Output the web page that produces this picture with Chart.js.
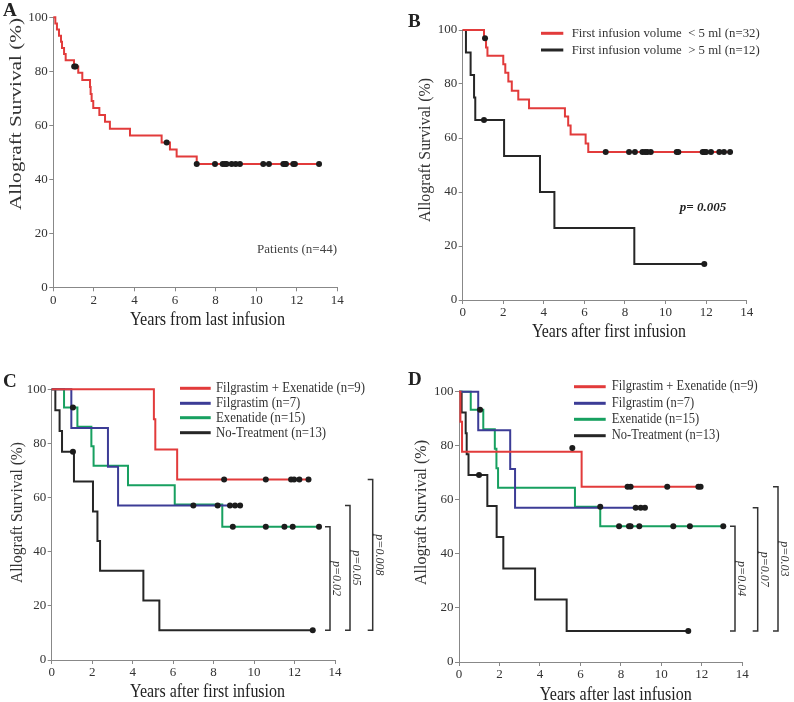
<!DOCTYPE html>
<html>
<head>
<meta charset="utf-8">
<script src="https://cdn.jsdelivr.net/npm/chart.js@4.4.0/dist/chart.umd.min.js"></script>
<style>
  body { margin: 0; background: #fff; }
  #wrap { position: relative; width: 794px; height: 702px; overflow: hidden; }
  canvas { position: absolute; }
</style>
</head>
<body>
<div id="wrap">
  <canvas id="panelA" width="397" height="362" style="left:0;top:0"></canvas>
  <canvas id="panelB" width="397" height="362" style="left:397px;top:0"></canvas>
  <canvas id="panelC" width="397" height="362" style="left:0;top:340px"></canvas>
  <canvas id="panelD" width="397" height="362" style="left:397px;top:340px"></canvas>
</div>
<script>
// axis ticks
const yearTicks = [0, 2, 4, 6, 8, 10, 12, 14];
const survivalTicks = [0, 20, 40, 60, 80, 100];

// A - all patients
const aTime = [0, 0.1, 0.18, 0.28, 0.38, 0.43, 0.53, 0.61, 1.02, 1.23, 1.43, 1.81, 1.84, 1.89, 1.97, 2.27, 2.55, 2.79, 3.78, 5.34, 5.75, 6.08, 7.07, 13.1];
const aSurv = [100, 97.7, 95.5, 93.2, 90.9, 88.6, 86.4, 84.1, 81.8, 79.5, 76.8, 74.2, 71.6, 69.0, 66.4, 63.8, 61.3, 58.7, 56.2, 53.6, 51.0, 48.4, 45.7, 45.7];
const aCensTime = [1.03, 1.1, 5.59, 7.07, 7.97, 8.35, 8.46, 8.54, 8.79, 8.99, 9.2, 10.35, 10.63, 11.34, 11.42, 11.47, 11.83, 11.91, 13.1];
const aCensSurv = [81.8, 81.8, 53.6, 45.7, 45.7, 45.7, 45.7, 45.7, 45.7, 45.7, 45.7, 45.7, 45.7, 45.7, 45.7, 45.7, 45.7, 45.7, 45.7];

// B - first infusion volume
const bLabels = ['First infusion volume  < 5 ml (n=32)', 'First infusion volume  > 5 ml (n=12)'];
const bLowTime = [0, 1.05, 1.15, 1.22, 2.0, 2.1, 2.25, 2.42, 2.74, 3.27, 5.04, 5.2, 5.32, 6.06, 6.19, 13.18];
const bLowSurv = [100, 96.9, 93.5, 90.5, 87.3, 84.2, 80.9, 77.5, 74.3, 71.0, 68.0, 64.6, 61.3, 58.0, 54.8, 54.8];
const bLowCensTime = [1.1, 7.05, 8.2, 8.49, 8.86, 8.99, 9.1, 9.27, 10.55, 10.63, 11.83, 11.91, 12.0, 12.24, 12.65, 12.88, 13.18];
const bLowCensSurv = [96.9, 54.8, 54.8, 54.8, 54.8, 54.8, 54.8, 54.8, 54.8, 54.8, 54.8, 54.8, 54.8, 54.8, 54.8, 54.8, 54.8];
const bHighTime = [0, 0.16, 0.39, 0.56, 0.62, 2.04, 3.81, 4.52, 8.46, 11.91];
const bHighSurv = [100, 91.7, 83.3, 75.0, 66.7, 53.3, 40.0, 26.7, 13.3, 13.3];
const bHighCensTime = [1.05, 11.91];
const bHighCensSurv = [66.7, 13.3];
const bPValue = 'p= 0.005';

// C and D - treatment groups
const groupLabels = ['Filgrastim + Exenatide (n=9)', 'Filgrastim (n=7)', 'Exenatide (n=15)', 'No-Treatment (n=13)'];

const cFilExTime = [0, 5.05, 5.12, 6.2, 12.69];
const cFilExSurv = [100, 88.9, 77.8, 66.7, 66.7];
const cFilExCensTime = [8.52, 10.58, 11.83, 11.98, 12.24, 12.69];
const cFilExCensSurv = [66.7, 66.7, 66.7, 66.7, 66.7, 66.7];
const cFilTime = [0, 0.97, 2.78, 3.28, 9.31];
const cFilSurv = [100, 85.7, 71.4, 57.1, 57.1];
const cFilCensTime = [7.0, 8.2, 8.81, 9.06, 9.31];
const cFilCensSurv = [57.1, 57.1, 57.1, 57.1, 57.1];
const cExTime = [0, 0.61, 1.27, 1.96, 2.07, 3.77, 6.08, 8.43, 13.21];
const cExSurv = [100, 93.3, 86.2, 79.0, 71.8, 64.6, 57.4, 49.2, 49.2];
const cExCensTime = [1.05, 8.95, 10.58, 11.5, 11.91, 13.21];
const cExCensSurv = [93.3, 49.2, 49.2, 49.2, 49.2, 49.2];
const cNoneTime = [0, 0.18, 0.39, 0.51, 1.1, 2.04, 2.26, 2.39, 4.53, 5.32, 12.9];
const cNoneSurv = [100, 92.3, 84.6, 76.9, 65.9, 54.9, 44.0, 33.0, 22.0, 11.0, 11.0];
const cNoneCensTime = [1.05, 12.9];
const cNoneCensSurv = [76.9, 11.0];
const cPValues = ['p=0.02', 'p=0.05', 'p=0.008'];

const dFilExTime = [0, 0.07, 0.15, 6.06, 11.94];
const dFilExSurv = [100, 88.9, 77.8, 64.8, 64.8];
const dFilExCensTime = [5.6, 8.33, 8.48, 10.29, 11.83, 11.94];
const dFilExCensSurv = [79.2, 64.8, 64.8, 64.8, 64.8, 64.8];
const dFilTime = [0, 0.95, 2.53, 2.77, 9.19];
const dFilSurv = [100, 85.7, 71.4, 57.1, 57.1];
const dFilCensTime = [8.73, 8.98, 9.19];
const dFilCensSurv = [57.1, 57.1, 57.1];
const dExTime = [0, 0.58, 1.2, 1.77, 1.85, 1.93, 5.73, 6.98, 13.06];
const dExSurv = [100, 93.3, 86.1, 78.9, 71.7, 64.5, 57.4, 50.2, 50.2];
const dExCensTime = [1.04, 6.98, 7.91, 8.4, 8.48, 8.91, 10.59, 11.41, 13.06];
const dExCensSurv = [93.3, 57.4, 50.2, 50.2, 50.2, 50.2, 50.2, 50.2, 50.2];
const dNoneTime = [0, 0.13, 0.33, 0.38, 0.47, 1.4, 1.86, 2.19, 3.76, 5.32, 11.33];
const dNoneSurv = [100, 92.3, 84.6, 76.9, 69.2, 57.7, 46.2, 34.6, 23.1, 11.5, 11.5];
const dNoneCensTime = [0.99, 11.33];
const dNoneCensSurv = [69.2, 11.5];
const dPValues = ['p=0.04', 'p=0.07', 'p=0.03'];

const serif = "'Liberation Serif', 'Times New Roman', serif";
const RED = '#e23b3b';
const BLUE = '#3c3c96';
const GREEN = '#17a060';
const BLACK = '#262626';
const DOT = '#1c1c1c';

const pts = (xs, ys) => xs.map((x, i) => ({ x, y: ys[i] }));

const curve = (xs, ys, color) => ({
  data: pts(xs, ys),
  borderColor: color,
  borderWidth: 2,
  stepped: true,
  pointRadius: 0,
  fill: false,
  clip: false,
  order: 1
});

const censor = (xs, ys) => ({
  data: pts(xs, ys),
  showLine: false,
  pointRadius: 3,
  pointBackgroundColor: DOT,
  pointBorderWidth: 0,
  clip: false,
  order: 0
});

// horizontal squeeze so a text spans the same width as in the figure
const squeezeFor = (ctx, text, font, width) => {
  ctx.save();
  ctx.font = font;
  const natural = ctx.measureText(text).width;
  ctx.restore();
  return width ? width / natural : 1;
};

const drawText = (ctx, text, x, y, font, { sx = 1, align = 'left', baseline = 'middle', angle = 0, color = '#222' } = {}) => {
  ctx.save();
  ctx.translate(x, y);
  ctx.rotate(angle);
  ctx.scale(sx, 1);
  ctx.font = font;
  ctx.fillStyle = color;
  ctx.textAlign = align;
  ctx.textBaseline = baseline;
  ctx.fillText(text, 0, 0);
  ctx.restore();
};

const panelExtras = {
  id: 'panelExtras',
  afterDraw(chart, args, opts) {
    const { ctx, chartArea, scales: { y } } = chart;
    const { letter, xTitle, yTitle, legend, notes = [], brackets } = opts;

    drawText(ctx, letter.text, letter.x, letter.y, `bold 19px ${serif}`, { baseline: 'alphabetic' });

    let font = `${xTitle.size}px ${serif}`;
    drawText(ctx, xTitle.text, xTitle.x, xTitle.y, font, {
      sx: squeezeFor(ctx, xTitle.text, font, xTitle.width), align: 'center', baseline: 'alphabetic'
    });

    font = `${yTitle.size}px ${serif}`;
    drawText(ctx, yTitle.text, yTitle.x, yTitle.y, font, {
      sx: squeezeFor(ctx, yTitle.text, font, yTitle.width), align: 'center', angle: -Math.PI / 2, color: '#333'
    });

    if (legend) {
      font = `${legend.size}px ${serif}`;
      const sx = squeezeFor(ctx, legend.labels[0], font, legend.width);
      legend.labels.forEach((label, i) => {
        const ly = legend.ys[i];
        ctx.save();
        ctx.strokeStyle = legend.colors[i];
        ctx.lineWidth = 3;
        ctx.beginPath();
        ctx.moveTo(legend.x0, ly);
        ctx.lineTo(legend.x1, ly);
        ctx.stroke();
        ctx.restore();
        drawText(ctx, label, legend.textX, ly, font, { sx, color: '#333' });
      });
    }

    notes.forEach(n => drawText(ctx, n.text, n.x, n.y, n.font, { align: n.align, color: n.color || '#333' }));

    if (brackets) {
      const bottomY = y.getPixelForValue(brackets.bottom);
      brackets.labels.forEach((label, i) => {
        const bx = chartArea.right + brackets.offsets[i];
        const topY = y.getPixelForValue(brackets.tops[i]);
        ctx.save();
        ctx.strokeStyle = '#333';
        ctx.lineWidth = 1.5;
        ctx.beginPath();
        ctx.moveTo(bx - 5, topY);
        ctx.lineTo(bx, topY);
        ctx.lineTo(bx, bottomY);
        ctx.lineTo(bx - 5, bottomY);
        ctx.stroke();
        ctx.restore();
        drawText(ctx, label, bx + 6, (topY + bottomY) / 2, `italic 12px ${serif}`, {
          align: 'center', angle: Math.PI / 2, color: '#333'
        });
      });
    }
  }
};

const axisStyle = {
  grid: { display: true, drawOnChartArea: false, drawTicks: true, tickLength: 4, color: '#888', lineWidth: 1 },
  border: { display: true, color: '#888', width: 1 },
  title: { display: false }
};

// area = [left, top, right, bottom] of the plot area inside the canvas
const makeChart = (id, datasets, area, extras) => {
  const canvas = document.getElementById(id);
  const [left, top, right, bottom] = area;
  return new Chart(canvas.getContext('2d'), {
    type: 'line',
    data: { datasets },
    plugins: [panelExtras],
    options: {
      responsive: false,
      animation: false,
      devicePixelRatio: 1,
      layout: { padding: { left: 0, top, right: canvas.width - right, bottom: 0 } },
      scales: {
        x: {
          ...axisStyle,
          type: 'linear',
          min: yearTicks[0],
          max: yearTicks[yearTicks.length - 1],
          afterBuildTicks: scale => { scale.ticks = yearTicks.map(value => ({ value })); },
          afterFit: scale => { scale.height = canvas.height - bottom; },
          ticks: { font: { family: serif, size: 13 }, color: '#333', padding: 1, maxRotation: 0 }
        },
        y: {
          ...axisStyle,
          min: survivalTicks[0],
          max: survivalTicks[survivalTicks.length - 1],
          afterBuildTicks: scale => { scale.ticks = survivalTicks.map(value => ({ value })); },
          afterFit: scale => { scale.width = left; },
          ticks: { font: { family: serif, size: 13 }, color: '#333', padding: 1.5 }
        }
      },
      plugins: {
        legend: { display: false },
        tooltip: { enabled: false },
        panelExtras: extras
      }
    }
  });
};

const yTitleText = 'Allograft Survival (%)';

makeChart('panelA', [
  censor(aCensTime, aCensSurv),
  curve(aTime, aSurv, RED)
], [53.3, 17.3, 337.3, 287.3], {
  letter: { text: 'A', x: 3, y: 16 },
  xTitle: { text: 'Years from last infusion', x: 207.5, y: 325, size: 19, width: 155 },
  yTitle: { text: yTitleText, x: 16.7, y: 114, size: 17, width: 192 },
  notes: [{ text: 'Patients (n=44)', x: 337, y: 250, font: `13px ${serif}`, align: 'right', color: '#444' }]
});

makeChart('panelB', [
  censor(bLowCensTime, bLowCensSurv),
  censor(bHighCensTime, bHighCensSurv),
  curve(bLowTime, bLowSurv, RED),
  curve(bHighTime, bHighSurv, BLACK)
], [65.7, 30, 349.7, 300], {
  letter: { text: 'B', x: 11, y: 27 },
  xTitle: { text: 'Years after first infusion', x: 211.9, y: 337.3, size: 19, width: 154 },
  yTitle: { text: yTitleText, x: 28.5, y: 150, size: 17, width: 144 },
  legend: { labels: bLabels, colors: [RED, BLACK], x0: 144, x1: 166.3, textX: 174.7, ys: [33.3, 50], size: 13.5, width: 188 },
  notes: [{ text: bPValue, x: 306, y: 208, font: `italic bold 13px ${serif}`, align: 'center', color: '#222' }]
});

makeChart('panelC', [
  censor(cFilExCensTime, cFilExCensSurv),
  censor(cFilCensTime, cFilCensSurv),
  censor(cExCensTime, cExCensSurv),
  censor(cNoneCensTime, cNoneCensSurv),
  curve(cFilExTime, cFilExSurv, RED),
  curve(cFilTime, cFilSurv, BLUE),
  curve(cExTime, cExSurv, GREEN),
  curve(cNoneTime, cNoneSurv, BLACK)
], [51.7, 49.3, 335, 320], {
  letter: { text: 'C', x: 3, y: 47 },
  xTitle: { text: 'Years after first infusion', x: 207.5, y: 357.3, size: 19, width: 155 },
  yTitle: { text: yTitleText, x: 17.5, y: 172.5, size: 17, width: 141 },
  legend: { labels: groupLabels, colors: [RED, BLUE, GREEN, BLACK], x0: 180, x1: 210.7, textX: 216, ys: [48.3, 63.3, 77.7, 92.7], size: 15, width: 149 },
  brackets: {
    labels: cPValues,
    tops: [cExSurv[cExSurv.length - 1], cFilSurv[cFilSurv.length - 1], cFilExSurv[cFilExSurv.length - 1]],
    bottom: cNoneSurv[cNoneSurv.length - 1],
    offsets: [-5, 15, 37.7]
  }
});

makeChart('panelD', [
  censor(dFilExCensTime, dFilExCensSurv),
  censor(dFilCensTime, dFilCensSurv),
  censor(dExCensTime, dExCensSurv),
  censor(dNoneCensTime, dNoneCensSurv),
  curve(dFilExTime, dFilExSurv, RED),
  curve(dFilTime, dFilSurv, BLUE),
  curve(dExTime, dExSurv, GREEN),
  curve(dNoneTime, dNoneSurv, BLACK)
], [62, 51.7, 345.3, 322], {
  letter: { text: 'D', x: 11, y: 45 },
  xTitle: { text: 'Years after last infusion', x: 218.8, y: 359.5, size: 19, width: 152 },
  yTitle: { text: yTitleText, x: 24.5, y: 172.5, size: 17, width: 145 },
  legend: { labels: groupLabels, colors: [RED, BLUE, GREEN, BLACK], x0: 177, x1: 208.7, textX: 214.7, ys: [46.7, 63.3, 79.3, 95.7], size: 14, width: 146 },
  brackets: {
    labels: dPValues,
    tops: [dExSurv[dExSurv.length - 1], dFilSurv[dFilSurv.length - 1], dFilExSurv[dFilExSurv.length - 1]],
    bottom: dNoneSurv[dNoneSurv.length - 1],
    offsets: [-7.3, 15.4, 35.7]
  }
});
</script>
</body>
</html>
